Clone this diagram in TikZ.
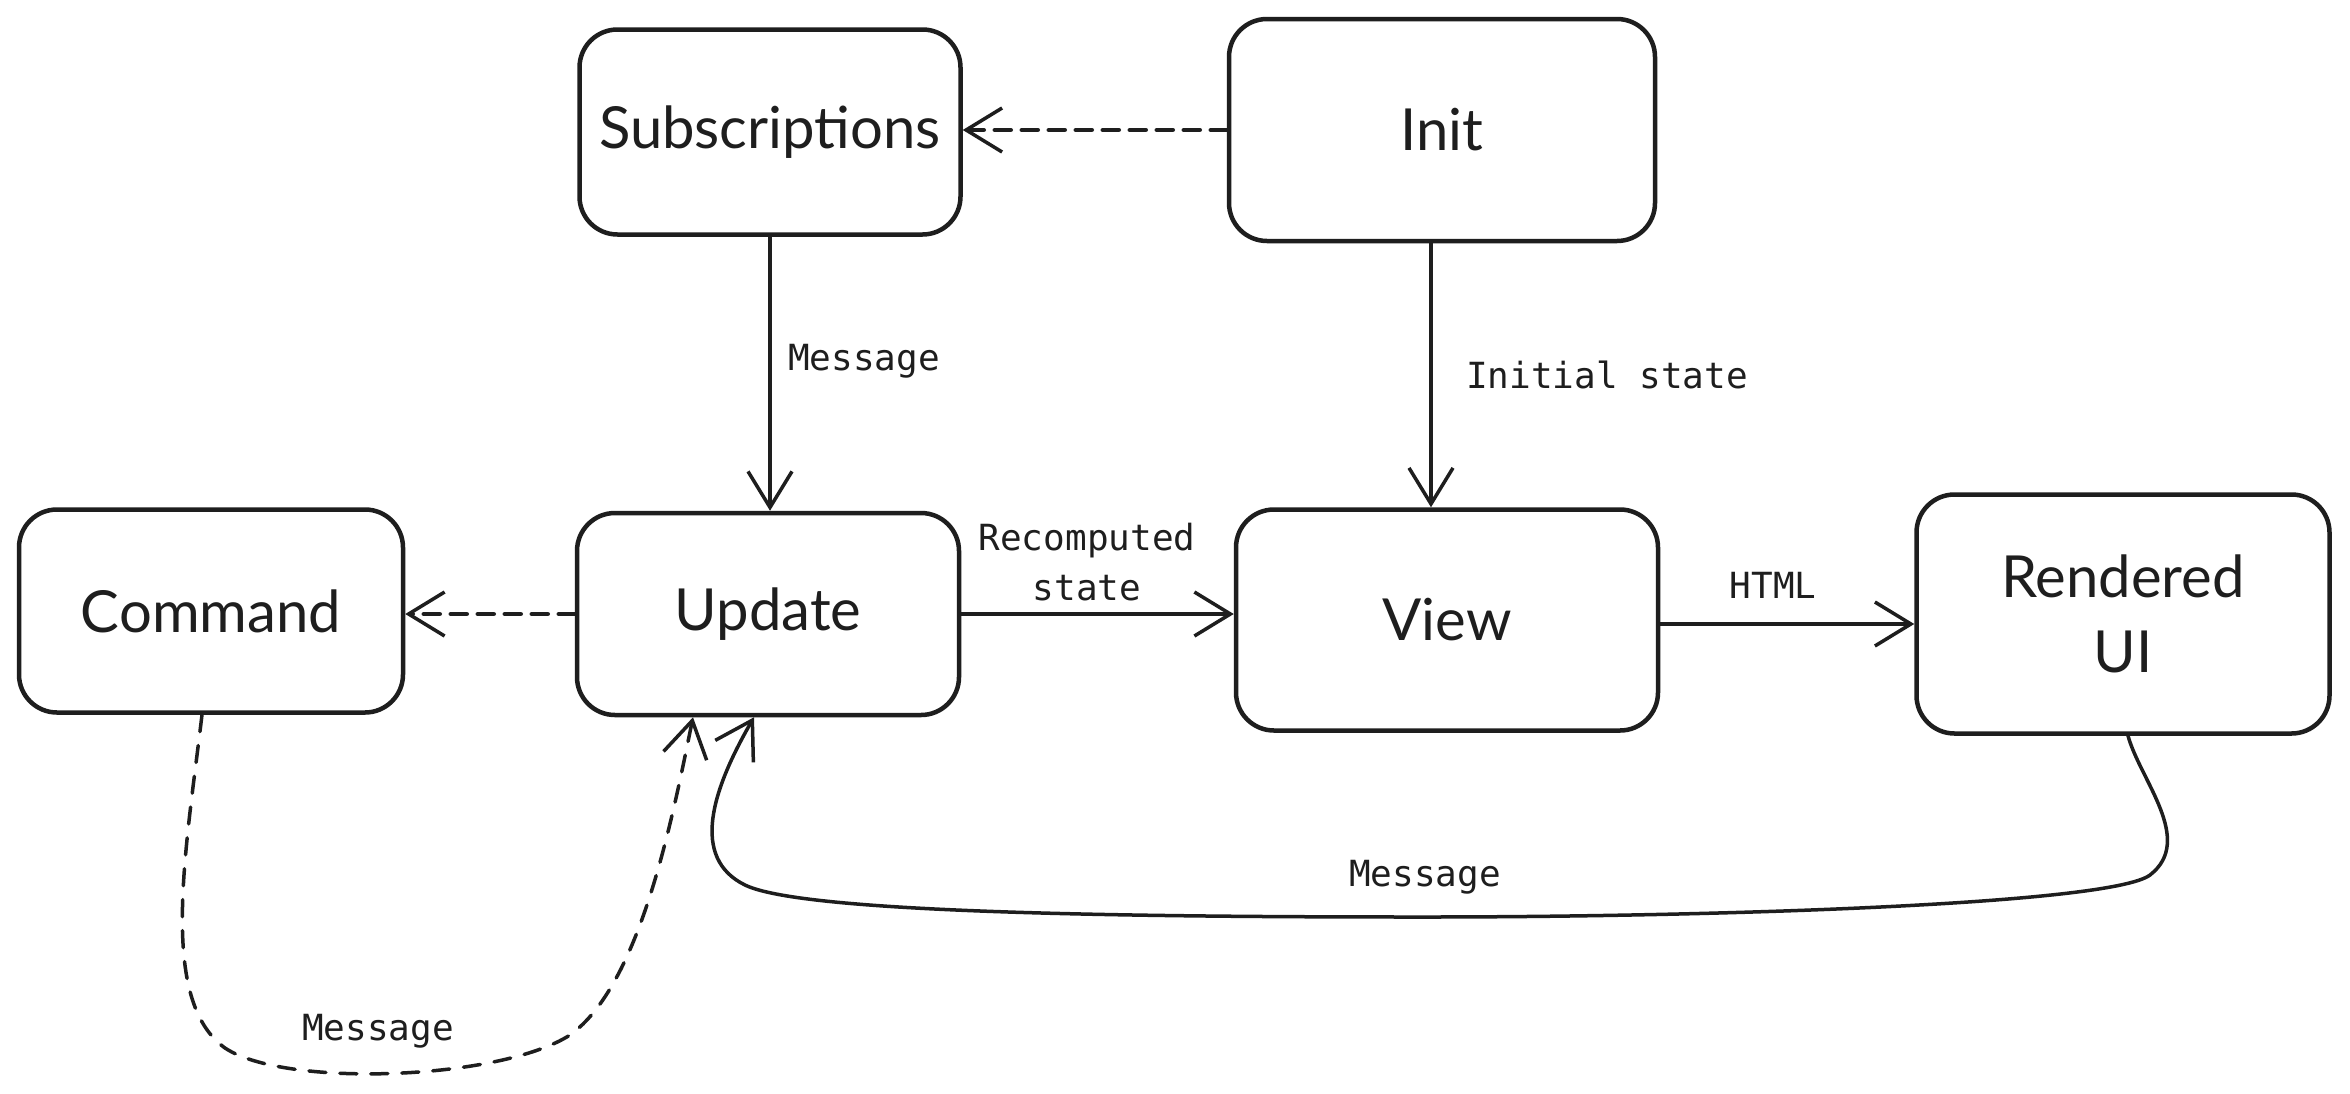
\documentclass[tikz,border=0pt]{standalone}
\usepackage{fontspec}
\setmainfont{Lato}
\newfontfamily\monofont{DejaVu Sans Mono}
\usetikzlibrary{arrows.meta,calc}
\definecolor{ink}{HTML}{1E1E1E}
\tikzset{
  box/.style={draw=ink, line width=4.5pt, rounded corners=38pt, inner sep=0pt, align=center,
    text=ink, font=\fontsize{58}{75}\selectfont},
  lbl/.style={text=ink, font=\monofont\fontsize{36}{50}\selectfont, align=center, inner sep=0pt},
  conn/.style={draw=ink, line width=3.5pt, line cap=round,
    -{Straight Barb[length=36pt,width=44pt,line width=3.5pt]}},
  dsh/.style={dash pattern=on 16pt off 11pt, line width=4.5pt},
}
\begin{document}
\begin{tikzpicture}[x=1pt,y=-1pt]
\useasboundingbox[fill=white] (0,0) rectangle (2350,1093);
% nodes
\node[box, minimum width=381pt, minimum height=205pt] (subs) at (770,132) {Subscriptions};
\node[box, minimum width=426pt, minimum height=222pt] (init) at (1442,130) {Init};
\node[box, minimum width=384pt, minimum height=203pt] (cmd) at (211,611) {Command};
\node[box, minimum width=382pt, minimum height=202pt] (upd) at (768,614) {Update};
\node[box, minimum width=422pt, minimum height=221pt] (view) at (1447,620) {View};
\node[box, minimum width=413pt, minimum height=239pt] (rui) at (2123,614) {Rendered\\UI};
% straight connectors
\draw[conn, dsh] (init.west) -- (init.west -| subs.east);
\draw[conn] (subs.south) -- (subs.south |- upd.north);
\draw[conn] ([xshift=-11pt]init.south) -- ([xshift=-11pt]init.south |- view.north);
\draw[conn, dsh] (upd.west) -- (upd.west -| cmd.east);
\draw[conn] (upd.east) -- (upd.east -| view.west);
\draw[conn] ([yshift=-4pt]view.east) -- ([yshift=-4pt]view.east -| rui.west);
% curved connectors
\draw[conn] ([xshift=5pt]rui.south) .. controls (2140,780) and (2195,840) .. (2150,875)
  .. controls (2110,905) and (1700,917) .. (1424,917)
  .. controls (1100,917) and (800,912) .. (745,885)
  .. controls (690,858) and (712,790) .. ([xshift=-14pt]upd.south);
\draw[conn, dash pattern=on 17pt off 14pt] ([xshift=-9pt]cmd.south) .. controls (186,850) and (158,1000) .. (225,1048)
  .. controls (285,1088) and (500,1080) .. (570,1035)
  .. controls (640,985) and (672,820) .. ([xshift=-75pt]upd.south);
% labels
\node[lbl, anchor=west] (l1) at (788,361) {Message};
\node[lbl, anchor=west] (l2) at (1466,375) {Initial state};
\node[lbl] (l3) at (1087,562) {Recomputed\\state};
\node[lbl] (l4) at (1773,585) {HTML};
\node[lbl] (l5) at (1425,877) {Message};
\node[lbl] (l6) at (378,1031) {Message};
\end{tikzpicture}
\end{document}
